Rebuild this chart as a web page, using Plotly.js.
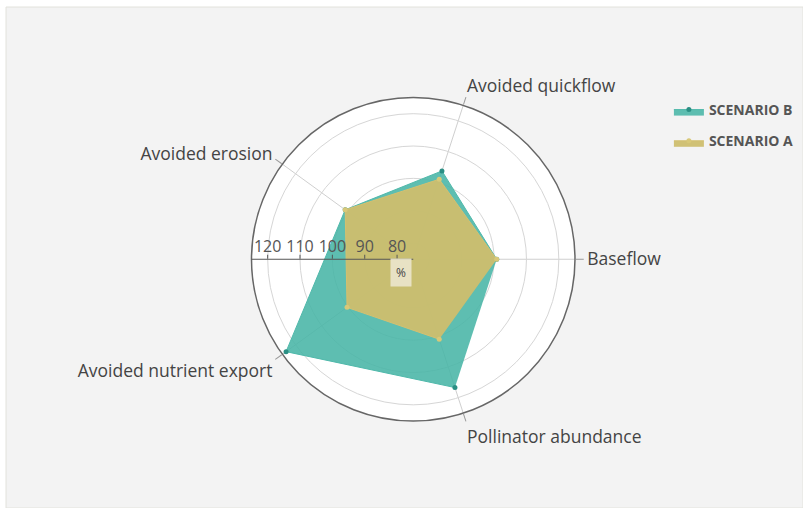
<!DOCTYPE html>
<html>
<head>
<meta charset="utf-8">
<script src="https://cdn.plot.ly/plotly-3.0.1.min.js"></script>
<style>
html,body{margin:0;padding:0;background:#ffffff;}
#chart{width:803px;height:508px;}
</style>
</head>
<body>
<div id="chart"></div>
<script>
const categories = ["Baseflow", "Avoided quickflow", "Avoided erosion", "Avoided nutrient export", "Pollinator abundance"];
const scenarioB = [100.8, 103.7, 101.0, 123.6, 116.7];
const scenarioA = [100.8, 101.0, 101.0, 100.3, 101.0];
const radialTicks = [80, 90, 100, 110, 120];
const radialRange = [75, 125];

const traceB = {
  type: "scatterpolar",
  name: "SCENARIO B",
  legendgroup: "b",
  r: scenarioB,
  theta: categories,
  fill: "toself",
  fillcolor: "rgba(72,181,166,0.88)",
  mode: "lines+markers",
  line: {color: "#4fb8aa", width: 1},
  marker: {color: "#2b8f84", size: 5},
  hoverinfo: "skip"
};
const traceA = {
  type: "scatterpolar",
  name: "SCENARIO A",
  legendgroup: "a",
  r: scenarioA,
  theta: categories,
  fill: "toself",
  fillcolor: "rgba(205,190,110,0.95)",
  mode: "lines+markers",
  line: {color: "#d4c070", width: 1},
  marker: {color: "#d8c878", size: 5},
  hoverinfo: "skip"
};

const layout = {
  width: 803,
  height: 508,
  margin: {l: 0, r: 0, t: 0, b: 0},
  paper_bgcolor: "#ffffff",
  font: {family: "'Open Sans', 'Noto Sans', sans-serif", color: "#444"},
  shapes: [{
    type: "rect", xref: "paper", yref: "paper", layer: "below",
    x0: 6/803, x1: 1, y0: 0, y1: 1 - 7/508,
    fillcolor: "#f3f3f3", line: {color: "#e2e2dc", width: 1}
  }],
  polar: {
    domain: {x: [251.5/803, 575/803], y: [1 - 421.5/508, 1 - 97/508]},
    bgcolor: "#ffffff",
    angularaxis: {
      direction: "counterclockwise",
      rotation: 0,
      categoryorder: "array",
      categoryarray: categories,
      ticks: "outside",
      ticklen: 8,
      tickcolor: "#999",
      showline: true,
      linecolor: "#666",
      linewidth: 1.5,
      gridcolor: "#cfcfcf",
      tickfont: {size: 17.5, color: "#444"}
    },
    radialaxis: {
      range: radialRange,
      angle: 180,
      tickangle: 180,
      tickvals: radialTicks,
      ticktext: radialTicks.map(String),
      ticks: "outside",
      ticklen: 4,
      tickcolor: "#555",
      showline: true,
      linecolor: "#555",
      linewidth: 1,
      gridcolor: "#d6d6d6",
      tickfont: {size: 16, color: "#555"},
      layer: "above traces"
    }
  },
  legend: {
    x: 0.833, y: 0.815, xanchor: "left", yanchor: "top",
    bgcolor: "rgba(0,0,0,0)",
    font: {size: 14, color: "#555", family: "'Open Sans', 'Noto Sans', sans-serif", weight: "bold"},
    tracegroupgap: 10
  },
  annotations: [{
    text: "%", xref: "paper", yref: "paper",
    x: 401/803, y: 1 - 272/508, xanchor: "center", yanchor: "middle",
    showarrow: false, font: {size: 12, color: "#444"},
    bgcolor: "rgba(235,230,205,0.9)", borderpad: 5
  }]
};

Plotly.newPlot("chart", [traceB, traceA], layout, {displayModeBar: false, staticPlot: true});
</script>
</body>
</html>
